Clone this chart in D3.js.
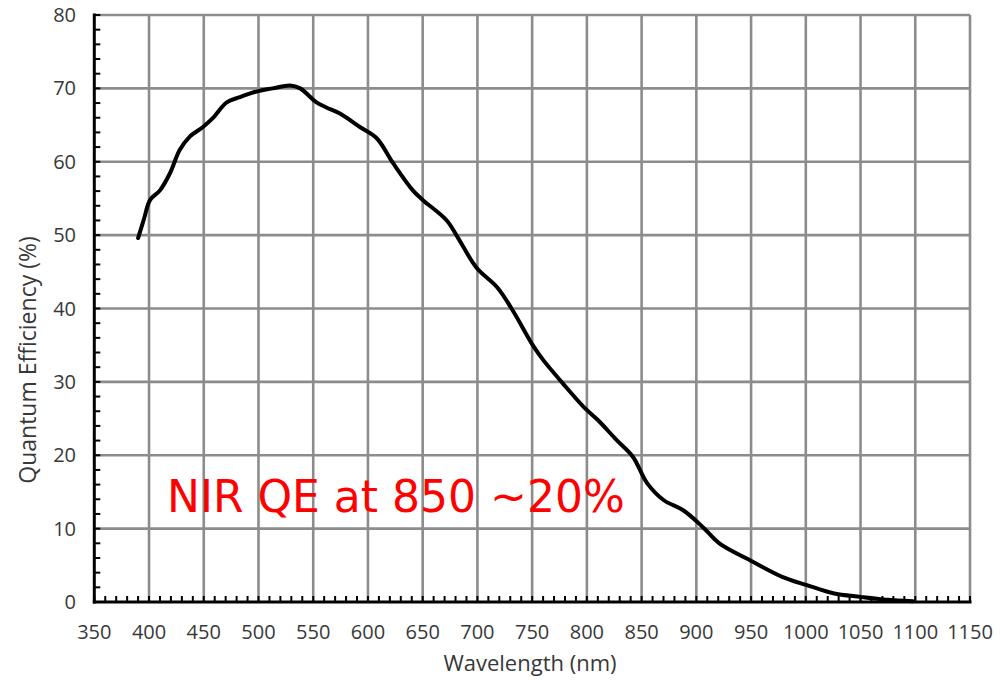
<!DOCTYPE html>
<html>
<head>
<meta charset="utf-8">
<script src="https://cdn.jsdelivr.net/npm/d3@7"></script>
<style>
  html, body { margin: 0; padding: 0; background: #fff; }
  svg { display: block; }
</style>
</head>
<body>
<svg id="chart" width="1000" height="684"></svg>
<script>
const wavelengths = [390,395,401,410,419,428,437,449,458,471,483,499,513,529,538,553,562,574,593,608,623,641,650,672,682,699,718,732,751,760,778,797,810,827,842,855,870,888,906,921,949,979,1001,1025,1050,1074,1098];
const qe = [49.6,52.0,54.8,56.1,58.4,61.6,63.4,64.7,65.9,68.1,68.8,69.6,70.0,70.4,70.0,68.1,67.4,66.6,64.7,63.2,59.8,56.1,54.8,52.0,49.7,45.6,42.9,39.8,34.9,33.0,29.8,26.6,24.8,22.1,19.8,16.2,13.9,12.5,10.2,8.0,5.7,3.4,2.3,1.2,0.7,0.3,0.1];
const xTicks = [350,400,450,500,550,600,650,700,750,800,850,900,950,1000,1050,1100,1150];
const yTicks = [0,10,20,30,40,50,60,70,80];
const xTitle = "Wavelength (nm)";
const yTitle = "Quantum Efficiency (%)";
const annotation = "NIR QE at 850 ~20%";

const svg = d3.select("#chart");
svg.append("rect").attr("width",1000).attr("height",684).attr("fill","#fff");

const x = d3.scaleLinear().domain([350,1150]).range([94.3,970]);
const y = d3.scaleLinear().domain([0,80]).range([602,15]);

const textColor = "#383838";
const gridColor = "#8c8c8c";

// grid
const g = svg.append("g");
g.selectAll(".vg").data(xTicks.filter(d => d > 350)).enter().append("line")
  .attr("x1", d => x(d)).attr("x2", d => x(d)).attr("y1", y(0)).attr("y2", y(80))
  .attr("stroke", gridColor).attr("stroke-width", 2.6);
g.selectAll(".hg").data(yTicks.filter(d => d > 0)).enter().append("line")
  .attr("x1", x(350)).attr("x2", x(1150)).attr("y1", d => y(d)).attr("y2", d => y(d))
  .attr("stroke", gridColor).attr("stroke-width", 2.6);

// annotation
svg.append("text").attr("x", 167).attr("y", 512)
  .attr("font-family", "DejaVu Sans").attr("font-size", 44)
  .attr("fill", "#ff0000").text(annotation);

// minor ticks
const xMinor = d3.range(350, 1151, 10);
const yMinor = d3.range(0, 81, 2);
const ax = svg.append("g");
ax.selectAll(".xm").data(xMinor).enter().append("line")
  .attr("x1", d => x(d)).attr("x2", d => x(d)).attr("y1", y(0)).attr("y2", y(0) - 6)
  .attr("stroke", "#000").attr("stroke-width", 2);
ax.selectAll(".ym").data(yMinor).enter().append("line")
  .attr("x1", x(350)).attr("x2", x(350) + 6).attr("y1", d => y(d)).attr("y2", d => y(d))
  .attr("stroke", "#000").attr("stroke-width", 2);

// axis lines
ax.append("line").attr("x1", x(350)).attr("x2", x(350)).attr("y1", y(80) - 1.5).attr("y2", y(0) + 1.5)
  .attr("stroke", "#000").attr("stroke-width", 3);
ax.append("line").attr("x1", x(350) - 1.5).attr("x2", x(1150) + 1.5).attr("y1", y(0)).attr("y2", y(0))
  .attr("stroke", "#000").attr("stroke-width", 3);

// tick labels
ax.selectAll(".xl").data(xTicks).enter().append("text")
  .attr("x", d => x(d)).attr("y", 639).attr("text-anchor", "middle")
  .attr("font-family", "Open Sans").attr("font-size", 20).attr("fill", textColor)
  .text(d => d);
ax.selectAll(".yl").data(yTicks).enter().append("text")
  .attr("x", 76).attr("y", d => y(d) + 7).attr("text-anchor", "end")
  .attr("font-family", "Open Sans").attr("font-size", 20).attr("fill", textColor)
  .text(d => d);

// titles
svg.append("text").attr("x", 530).attr("y", 671).attr("text-anchor", "middle")
  .attr("font-family", "Open Sans").attr("font-size", 22).attr("fill", textColor).text(xTitle);
svg.append("text").attr("transform", "translate(36,360) rotate(-90)").attr("text-anchor", "middle")
  .attr("font-family", "Open Sans").attr("font-size", 23).attr("fill", textColor).text(yTitle);

// curve
const line = d3.line().x((d, i) => x(wavelengths[i])).y(d => y(d)).curve(d3.curveCatmullRom.alpha(0.5));
svg.append("path").datum(qe).attr("d", line).attr("fill", "none")
  .attr("stroke", "#000").attr("stroke-width", 4).attr("stroke-linejoin", "round").attr("stroke-linecap", "round");
</script>
</body>
</html>
